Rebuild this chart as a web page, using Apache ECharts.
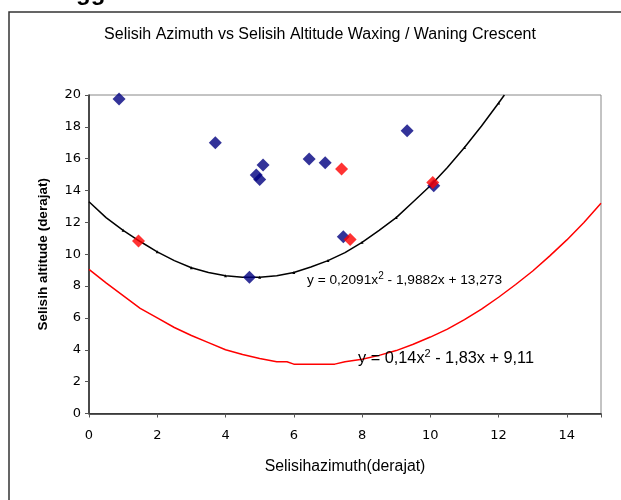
<!DOCTYPE html>
<html><head><meta charset="utf-8">
<script src="https://cdn.jsdelivr.net/npm/echarts@6/dist/echarts.min.js"></script>
<style>html,body{margin:0;padding:0;background:#fff}#c{width:621px;height:500px}</style>
</head><body><div id="c"></div>
<script>
var titleText = 'Selisih Azimuth vs Selisih Altitude Waxing / Waning Crescent';
var xAxisName = 'Selisihazimuth(derajat)';
var yAxisName = 'Selisih altitude (derajat)';
var xTicks = [0, 2, 4, 6, 8, 10, 12, 14];
var yTicks = [0, 2, 4, 6, 8, 10, 12, 14, 16, 18, 20];

var blueX = [0.88, 3.7, 4.9, 5.0, 5.1, 6.45, 6.92, 9.32, 10.1, 7.45, 4.7];
var blueY = [19.75, 17.0, 14.98, 14.7, 15.6, 15.98, 15.75, 17.75, 14.3, 11.1, 8.55];
var redX = [1.45, 7.4, 7.65, 10.07];
var redY = [10.83, 15.35, 10.93, 14.5];

var blackX = [0, 0.5, 1, 1.5, 2, 2.5, 3, 3.5, 4, 4.5, 5, 5.5, 6, 6.5, 7, 7.5, 8, 8.5, 9, 9.5, 10, 10.5, 11, 11.5, 12, 12.17];
var blackY = [13.3, 12.3, 11.5, 10.8, 10.15, 9.6, 9.15, 8.85, 8.65, 8.55, 8.55, 8.65, 8.85, 9.2, 9.6, 10.1, 10.75, 11.5, 12.3, 13.3, 14.3, 15.45, 16.7, 18.05, 19.5, 20.0];
var redLineX = [0, 0.5, 1, 1.5, 2, 2.5, 3, 3.5, 4, 4.5, 5, 5.5, 5.8, 6, 6.5, 7, 7.2, 7.5, 8, 8.5, 9, 9.5, 10, 10.5, 11, 11.5, 12, 12.5, 13, 13.5, 14, 14.5, 15];
var redLineY = [9.05, 8.2, 7.4, 6.6, 6.0, 5.4, 4.9, 4.45, 4.0, 3.7, 3.45, 3.25, 3.25, 3.1, 3.1, 3.1, 3.1, 3.25, 3.4, 3.65, 3.95, 4.35, 4.8, 5.3, 5.9, 6.55, 7.3, 8.1, 8.95, 9.9, 10.9, 12.0, 13.2];

var blackEq = 'y = 0,2091x';
var blackEq2 = ' - 1,9882x + 13,273';
var redEq = 'y = 0,14x';
var redEq2 = ' - 1,83x + 9,11';

function zip(a, b) { return a.map(function (v, i) { return [v, b[i]]; }); }

var chart = echarts.init(document.getElementById('c'), null, {renderer: 'canvas'});
var font = 'Liberation Sans, Arial, sans-serif';
var tickFont = 'DejaVu Sans, Verdana, sans-serif';
chart.setOption({
  animation: false,
  backgroundColor: '#fff',
  grid: {left: 89, right: 20, top: 95, bottom: 86.5, show: true, borderColor: '#888', borderWidth: 1, backgroundColor: 'transparent'},
  xAxis: {
    type: 'value', min: 0, max: 15, interval: 2,
    name: xAxisName, nameLocation: 'middle', nameGap: 45,
    nameTextStyle: {fontFamily: font, fontSize: 15.8, color: '#000'},
    axisLine: {show: true, onZero: false, lineStyle: {color: '#222', width: 1.5}},
    axisTick: {show: true, length: 4, lineStyle: {color: '#555'}},
    axisLabel: {fontFamily: tickFont, fontSize: 13, color: '#000', margin: 16,
      formatter: function (v) { return xTicks.indexOf(v) >= 0 ? String(v) : ''; }},
    splitLine: {show: false}
  },
  yAxis: {
    type: 'value', min: 0, max: 20, interval: 2,
    name: yAxisName, nameLocation: 'middle', nameGap: 39, nameRotate: 90,
    nameTextStyle: {fontFamily: font, fontSize: 13.5, fontWeight: 'bold', color: '#000'},
    axisLine: {show: true, onZero: false, lineStyle: {color: '#222', width: 1.5}},
    axisTick: {show: true, length: 4, lineStyle: {color: '#555'}},
    axisLabel: {fontFamily: tickFont, fontSize: 13, color: '#000', margin: 8,
      formatter: function (v) { return yTicks.indexOf(v) >= 0 ? String(v) : ''; }},
    splitLine: {show: false}
  },
  series: [
    {type: 'line', data: zip(redLineX, redLineY), showSymbol: false, lineStyle: {color: '#ff0000', width: 1.5}, z: 2, clip: true},
    {type: 'line', data: zip(blackX, blackY), symbol: 'triangle',
      symbolSize: function (v) { return Number.isInteger(v[0]) && v[0] > 0 ? 3 : 0; },
      showAllSymbol: true, itemStyle: {color: '#000'}, lineStyle: {color: '#000', width: 1.5}, z: 3, clip: true},
    {type: 'scatter', data: zip(blueX, blueY), symbol: 'diamond', symbolSize: 13, itemStyle: {color: '#000080'}, z: 4},
    {type: 'scatter', data: zip(redX, redY), symbol: 'diamond', symbolSize: 13, itemStyle: {color: '#ff0000'}, z: 5}
  ],
  graphic: [
    {type: 'rect', shape: {x: 9, y: 12, width: 700, height: 600}, style: {fill: 'none', stroke: '#333', lineWidth: 1.5}, z: -1, silent: true},
    {type: 'text', left: 76, top: -19, style: {text: 'gg', font: 'bold 24px Liberation Sans, Arial, sans-serif', fill: '#000'}},
    {type: 'text', x: 320, y: 35, style: {text: titleText, font: '16px Liberation Sans, Arial, sans-serif', fill: '#000', textAlign: 'center', textVerticalAlign: 'middle'}},
    {type: 'text', left: 307, top: 271, z: 10, style: {
      text: '{a|' + blackEq + '}{s|2}{a|' + blackEq2 + '}',
      rich: {a: {fontFamily: font, fontSize: 13.7, color: '#000'}, s: {fontFamily: font, fontSize: 10, color: '#000', padding: [0, 0, 8, 0]}}
    }},
    {type: 'text', left: 358, top: 348, z: 10, style: {
      text: '{a|' + redEq + '}{s|2}{a|' + redEq2 + '}',
      rich: {a: {fontFamily: font, fontSize: 16.3, color: '#ff0000'}, s: {fontFamily: font, fontSize: 11, color: '#ff0000', padding: [0, 0, 10, 0]}}
    }}
  ]
});
</script></body></html>
